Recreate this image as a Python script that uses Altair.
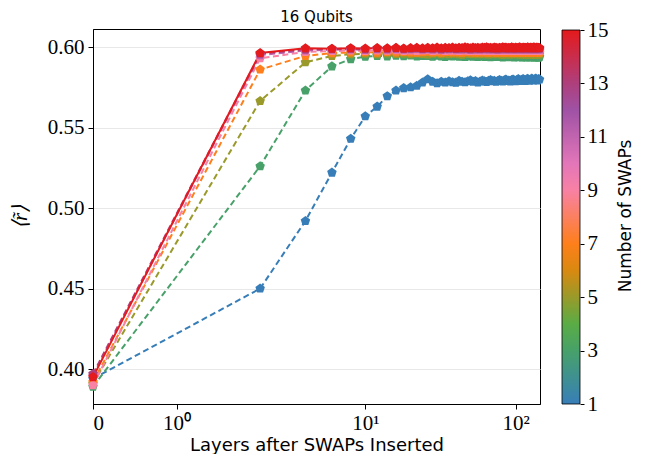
import math
import altair as alt
import pandas as pd

LAYERS = list(range(0, 146, 2))
SWAPS = [1, 3, 5, 7, 9, 11, 13, 15]

R_1 = [0.394, 0.450, 0.492, 0.522, 0.543, 0.557, 0.563, 0.5695, 0.573, 0.5745,
       0.575, 0.576, 0.578, 0.5800, 0.5785, 0.5775, 0.5785, 0.5780, 0.5788, 0.5782,
       0.5779, 0.5790, 0.5785, 0.5781, 0.5787, 0.5793, 0.5784, 0.5789, 0.5780, 0.5786,
       0.5792, 0.5788, 0.5783, 0.5790, 0.5795, 0.5787, 0.5791, 0.5784, 0.5789, 0.5796,
       0.5790, 0.5786, 0.5793, 0.5798, 0.5789, 0.5792, 0.5786, 0.5795, 0.5799, 0.5791,
       0.5788, 0.5796, 0.5801, 0.5793, 0.5790, 0.5797, 0.5802, 0.5794, 0.5789, 0.5798,
       0.5803, 0.5795, 0.5791, 0.5799, 0.5804, 0.5796, 0.5792, 0.5800, 0.5805, 0.5797,
       0.5793, 0.5801, 0.5798]
R_3 = [0.389, 0.526, 0.573, 0.588, 0.5925, 0.5940, 0.5945, 0.5942, 0.5946, 0.5943,
       0.5947, 0.5941, 0.5945, 0.5944, 0.5940, 0.5946, 0.5942, 0.5939, 0.5944, 0.5941,
       0.5945, 0.5940, 0.5943, 0.5938, 0.5942, 0.5945, 0.5940, 0.5943, 0.5939, 0.5941,
       0.5944, 0.5938, 0.5942, 0.5940, 0.5937, 0.5943, 0.5939, 0.5941, 0.5938, 0.5942,
       0.5940, 0.5936, 0.5941, 0.5939, 0.5943, 0.5937, 0.5940, 0.5938, 0.5942, 0.5936,
       0.5939, 0.5941, 0.5937, 0.5940, 0.5938, 0.5935, 0.5940, 0.5937, 0.5939, 0.5936,
       0.5940, 0.5938, 0.5935, 0.5939, 0.5937, 0.5940, 0.5936, 0.5938, 0.5935, 0.5939,
       0.5937, 0.5934, 0.5938]
R_5 = [0.391, 0.5665, 0.5905, 0.5945, 0.5955, 0.5958, 0.5956, 0.5960, 0.5957, 0.5959,
       0.5956, 0.5960, 0.5957, 0.5954, 0.5958, 0.5961, 0.5956, 0.5959, 0.5955, 0.5958,
       0.5960, 0.5956, 0.5953, 0.5958, 0.5961, 0.5957, 0.5955, 0.5959, 0.5956, 0.5958,
       0.5955, 0.5960, 0.5957, 0.5954, 0.5958, 0.5956, 0.5959, 0.5955, 0.5957, 0.5960,
       0.5956, 0.5953, 0.5958, 0.5955, 0.5959, 0.5956, 0.5954, 0.5958, 0.5955, 0.5957,
       0.5960, 0.5955, 0.5958, 0.5954, 0.5957, 0.5955, 0.5959, 0.5956, 0.5953, 0.5957,
       0.5955, 0.5958, 0.5954, 0.5957, 0.5955, 0.5952, 0.5956, 0.5954, 0.5957, 0.5953,
       0.5956, 0.5954, 0.5955]
R_7 = [0.392, 0.586, 0.5945, 0.5962, 0.5966, 0.5968, 0.5965, 0.5969, 0.5966, 0.5970,
       0.5967, 0.5964, 0.5968, 0.5971, 0.5966, 0.5969, 0.5965, 0.5968, 0.5970, 0.5966,
       0.5969, 0.5967, 0.5964, 0.5968, 0.5971, 0.5966, 0.5969, 0.5965, 0.5968, 0.5967,
       0.5970, 0.5966, 0.5968, 0.5964, 0.5969, 0.5967, 0.5971, 0.5965, 0.5968, 0.5966,
       0.5969, 0.5967, 0.5964, 0.5968, 0.5970, 0.5966, 0.5968, 0.5965, 0.5969, 0.5967,
       0.5964, 0.5968, 0.5970, 0.5966, 0.5969, 0.5965, 0.5967, 0.5970, 0.5966, 0.5968,
       0.5965, 0.5969, 0.5967, 0.5964, 0.5968, 0.5966, 0.5969, 0.5965, 0.5967, 0.5970,
       0.5966, 0.5968, 0.5965]
R_9 = [0.390, 0.593, 0.5970, 0.5975, 0.5978, 0.5976, 0.5979, 0.5977, 0.5980, 0.5976,
       0.5978, 0.5975, 0.5979, 0.5981, 0.5976, 0.5978, 0.5980, 0.5975, 0.5979, 0.5977,
       0.5980, 0.5976, 0.5978, 0.5981, 0.5977, 0.5975, 0.5979, 0.5978, 0.5976, 0.5980,
       0.5977, 0.5979, 0.5975, 0.5978, 0.5981, 0.5976, 0.5979, 0.5977, 0.5980, 0.5976,
       0.5978, 0.5975, 0.5979, 0.5977, 0.5980, 0.5976, 0.5978, 0.5981, 0.5977, 0.5979,
       0.5976, 0.5978, 0.5980, 0.5975, 0.5979, 0.5977, 0.5981, 0.5976, 0.5978, 0.5980,
       0.5977, 0.5979, 0.5976, 0.5978, 0.5981, 0.5977, 0.5979, 0.5976, 0.5980, 0.5978,
       0.5977, 0.5979, 0.5976]
R_11 = [0.396, 0.5950, 0.5978, 0.5983, 0.5985, 0.5982, 0.5986, 0.5984, 0.5987, 0.5983,
        0.5985, 0.5988, 0.5983, 0.5986, 0.5984, 0.5987, 0.5982, 0.5986, 0.5985, 0.5988,
        0.5983, 0.5986, 0.5984, 0.5988, 0.5985, 0.5982, 0.5987, 0.5984, 0.5986, 0.5983,
        0.5987, 0.5985, 0.5988, 0.5984, 0.5986, 0.5983, 0.5987, 0.5985, 0.5982, 0.5986,
        0.5984, 0.5988, 0.5985, 0.5987, 0.5983, 0.5986, 0.5984, 0.5988, 0.5985, 0.5983,
        0.5987, 0.5984, 0.5986, 0.5988, 0.5985, 0.5983, 0.5987, 0.5985, 0.5986, 0.5984,
        0.5988, 0.5985, 0.5983, 0.5987, 0.5984, 0.5986, 0.5988, 0.5985, 0.5983, 0.5987,
        0.5985, 0.5986, 0.5984]
R_13 = [0.397, 0.5958, 0.5985, 0.5988, 0.5990, 0.5987, 0.5991, 0.5989, 0.5992, 0.5988,
        0.5990, 0.5993, 0.5988, 0.5991, 0.5989, 0.5992, 0.5987, 0.5991, 0.5990, 0.5993,
        0.5988, 0.5991, 0.5989, 0.5993, 0.5990, 0.5987, 0.5992, 0.5989, 0.5991, 0.5988,
        0.5992, 0.5990, 0.5993, 0.5989, 0.5991, 0.5988, 0.5992, 0.5990, 0.5987, 0.5991,
        0.5989, 0.5993, 0.5990, 0.5992, 0.5988, 0.5991, 0.5989, 0.5993, 0.5990, 0.5988,
        0.5992, 0.5989, 0.5991, 0.5993, 0.5990, 0.5988, 0.5992, 0.5990, 0.5991, 0.5989,
        0.5993, 0.5990, 0.5988, 0.5992, 0.5989, 0.5991, 0.5993, 0.5990, 0.5988, 0.5992,
        0.5990, 0.5991, 0.5989]
R_15 = [0.395, 0.5963, 0.5992, 0.5990, 0.5993, 0.5991, 0.5994, 0.5992, 0.5995, 0.5991,
        0.5994, 0.5996, 0.5992, 0.5995, 0.5993, 0.5997, 0.5992, 0.5995, 0.5994, 0.5997,
        0.5993, 0.5996, 0.5994, 0.5998, 0.5995, 0.5992, 0.5997, 0.5994, 0.5996, 0.5993,
        0.5997, 0.5995, 0.5998, 0.5994, 0.5996, 0.5993, 0.5997, 0.5995, 0.5992, 0.5996,
        0.5994, 0.5998, 0.5995, 0.5997, 0.5993, 0.5996, 0.5994, 0.5998, 0.5995, 0.5993,
        0.5997, 0.5994, 0.5996, 0.5998, 0.5995, 0.5993, 0.5997, 0.5995, 0.5996, 0.5994,
        0.5998, 0.5995, 0.5993, 0.5997, 0.5994, 0.5996, 0.5998, 0.5995, 0.5993, 0.5997,
        0.5995, 0.5996, 0.5994]

SERIES = [R_1, R_3, R_5, R_7, R_9, R_11, R_13, R_15]
CMAP = ["#377eb8", "#4daf4a", "#ff7f00", "#f781bf", "#984ea3", "#e41a1c"]
X_TICKS = [0, 1, 10, 100]
X_TICK_LABELS = ["0", "10\u2070", "10\u00b9", "10\u00b2"]
Y_TICKS = [0.40, 0.45, 0.50, 0.55, 0.60]
CBAR_TICKS = [1, 3, 5, 7, 9, 11, 13, 15]

rows = []
for s, vals in zip(SWAPS, SERIES):
    for l, v in zip(LAYERS, vals):
        rows.append({"layers": l, "r": v, "swaps": s})
df = pd.DataFrame(rows)

LT = 2.0
LSA = 1.0 / (1 - 1 / 10.0)


def symlog(v):
    if v < LT:
        return v * LSA
    return LT * (LSA + math.log10(v / LT))


XMAX = symlog(145)
tick_pos = [symlog(v) for v in X_TICKS]
label_expr = " : ".join(
    f"abs(datum.value - {p}) < 0.01 ? '{t}'" for p, t in zip(tick_pos, X_TICK_LABELS)
) + " : ''"

SERIF = "Liberation Serif"
SANS = "DejaVu Sans"
PENT = "M0,-1L0.951,-0.309L0.588,0.809L-0.588,0.809L-0.951,-0.309Z"

base = alt.Chart(df).transform_calculate(
    xs=f"datum.layers < {LT} ? datum.layers * {LSA} : {LT} * ({LSA} + log(datum.layers / {LT}) / LN10)"
)

x_enc = alt.X(
    "xs:Q",
    scale=alt.Scale(domain=[0, XMAX], nice=False, zero=False),
    axis=alt.Axis(
        values=tick_pos, labelExpr=label_expr, title="Layers after SWAPs Inserted",
        grid=False, labelFont=SERIF, labelFontSize=21, labelColor="black",
        titleFont=SANS, titleFontSize=18, titleFontWeight="normal", titleColor="black",
        tickColor="black", domainColor="black", tickSize=5, labelPadding=3, titlePadding=3,
    ),
)
y_enc = alt.Y(
    "r:Q",
    scale=alt.Scale(domain=[0.3783, 0.6112], nice=False, zero=False),
    axis=alt.Axis(
        orient="left", values=Y_TICKS, format=".2f", title="\u27e8r\u0303\u27e9",
        grid=True, gridColor="#e8e8e8", gridWidth=1,
        labelFont=SERIF, labelFontSize=21, labelColor="black",
        titleFont=SERIF, titleFontSize=21, titleFontWeight="normal", titleFontStyle="italic",
        titleColor="black", tickColor="black", domainColor="black", tickSize=5,
        labelPadding=4, titlePadding=17,
    ),
)
color_scale = alt.Scale(domain=[1, 15], range=CMAP, interpolate="rgb")
line_color = alt.Color("swaps:Q", scale=color_scale, legend=None)
point_color = alt.Color(
    "swaps:Q",
    scale=color_scale,
    legend=alt.Legend(
        type="gradient", title=None, orient="none", legendX=469, legendY=1, direction="vertical",
        gradientLength=374, gradientThickness=18, labelOpacity=0,
        gradientStrokeColor="black", gradientStrokeWidth=0.8,
    ),
)

dashed = base.mark_line(strokeDash=[6, 3.5], strokeWidth=2).encode(
    x=x_enc, y=y_enc, color=line_color, detail="swaps:N"
).transform_filter("datum.swaps < 15")
solid = base.mark_line(strokeWidth=2).encode(
    x=x_enc, y=y_enc, color=line_color, detail="swaps:N"
).transform_filter("datum.swaps == 15")
points = base.mark_point(shape=PENT, filled=True, size=100, opacity=1).encode(
    x=x_enc, y=y_enc, color=point_color, order=alt.Order("swaps:Q")
)

data_layer = alt.layer(dashed, solid, points).resolve_legend(color="independent")

# colorbar tick axis (right side of the colour bar)
cbar_axis = alt.Chart(pd.DataFrame({"v": CBAR_TICKS})).mark_point(opacity=0).encode(
    y=alt.Y(
        "v:Q",
        scale=alt.Scale(domain=[1, 15 + 14 / 374], nice=False, zero=False),
        axis=alt.Axis(
            orient="right", offset=40, values=CBAR_TICKS, format="d", title=None,
            grid=False, domain=False, labelFont=SERIF, labelFontSize=21, labelColor="black",
            tickColor="black", tickSize=4, labelPadding=3,
        ),
    )
)

cbar_title = alt.Chart(pd.DataFrame({"t": ["Number of SWAPs"]})).mark_text(
    angle=270, font=SANS, fontSize=17, color="black", align="center", baseline="middle"
).encode(text="t:N", x=alt.value(533), y=alt.value(187))

plot_title = alt.Chart(pd.DataFrame({"t": ["16 Qubits"]})).mark_text(
    font=SANS, fontSize=15, color="black", align="center", baseline="middle"
).encode(text="t:N", x=alt.value(223.5), y=alt.value(-12))

chart = alt.layer(data_layer, cbar_axis, cbar_title, plot_title).resolve_scale(
    y="independent"
).properties(
    width=447, height=375,
    padding={"left": 85, "top": 21, "right": 100, "bottom": 50},
    autosize=alt.AutoSizeParams(type="none"),
).configure_view(stroke="black", strokeWidth=1)

chart.save("out.html", embed_options={"renderer": "svg", "actions": False})
